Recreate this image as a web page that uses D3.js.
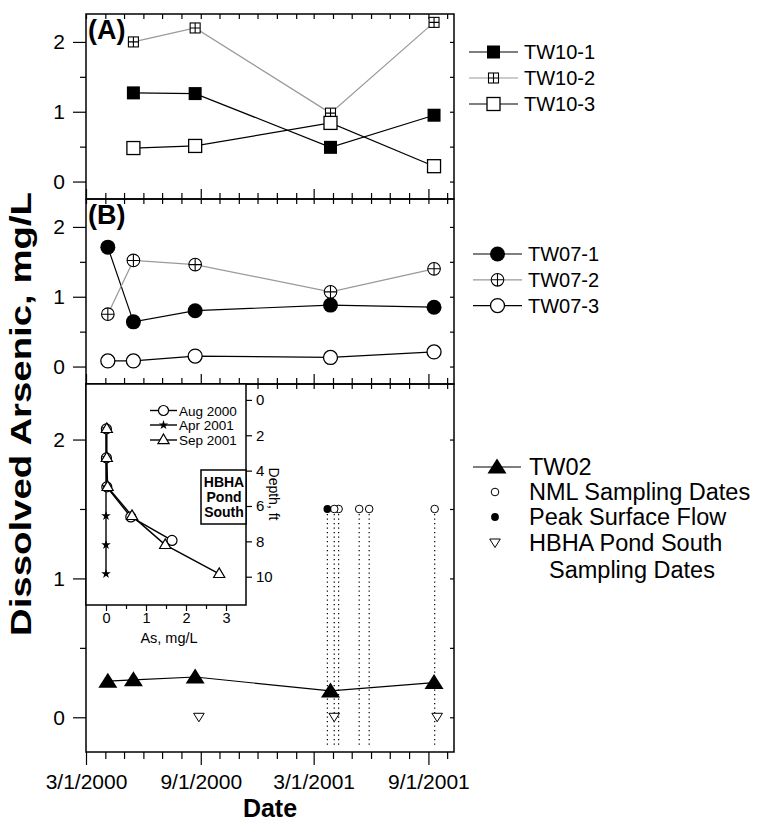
<!DOCTYPE html>
<html>
<head>
<meta charset="utf-8">
<style>
body { margin: 0; background: #fff; }
svg { display: block; font-family: "Liberation Sans", Arial, sans-serif; }
.axis text { font-family: "Liberation Sans", Arial, sans-serif; fill: #000; }
.axis line { stroke: #000; stroke-width: 1.2; }
.axis path.domain { display: none; }
</style>
</head>
<body>
<svg width="761" height="825" font-family="Liberation Sans, Arial, sans-serif"></svg>
<script src="https://cdn.jsdelivr.net/npm/d3@7"></script>
<script>

var parse = d3.timeParse("%Y-%m-%d");

// well sampling dates
var wellDates = ["2000-04-05", "2000-05-16", "2000-08-23", "2001-03-28", "2001-09-10"];

// dissolved arsenic, mg/L (null = not sampled)
var tw10_1 = [null, 1.27, 1.26, 0.49, 0.95];
var tw10_2 = [null, 2.00, 2.20, 0.98, 2.28];
var tw10_3 = [null, 0.48, 0.51, 0.84, 0.22];
var tw07_1 = [1.71, 0.64, 0.80, 0.88, 0.85];
var tw07_2 = [0.75, 1.52, 1.46, 1.07, 1.40];
var tw07_3 = [0.08, 0.08, 0.15, 0.13, 0.21];
var tw02   = [0.26, 0.27, 0.29, 0.19, 0.25];

// event dates shown in panel C
var peakFlowDates = ["2001-03-23"];
var nmlDates = ["2001-04-03", "2001-04-10", "2001-05-13", "2001-05-29", "2001-09-11"];
var hbhaDates = ["2000-08-29", "2001-04-03", "2001-09-15"];
var eventLevel = 1.5;
var hbhaLevel = 0;

// inset: depth profiles at HBHA Pond South
var aug2000Depth = [1.64, 3.28, 4.92, 6.62, 7.95];
var aug2000As    = [0.01, 0.01, 0.02, 0.62, 1.65];
var apr2001Depth = [1.64, 3.28, 4.92, 6.56, 8.20, 9.84];
var apr2001As    = [0.00, 0.00, 0.00, 0.00, 0.00, 0.00];
var sep2001Depth = [1.64, 3.28, 4.92, 6.56, 8.20, 9.84];
var sep2001As    = [0.02, 0.02, 0.04, 0.65, 1.48, 2.83];

// tick labels
var yTicks = [0, 1, 2];
var xTicks = ["2000-03-01", "2000-09-01", "2001-03-01", "2001-09-01"];
var insetAsTicks = [0, 1, 2, 3];
var insetDepthTicks = [0, 2, 4, 6, 8, 10];

var svg = d3.select("svg");
svg.append("rect").attr("width", 761).attr("height", 825).attr("fill", "#fff");

var L = 86, R = 454;
var x = d3.scaleTime()
    .domain([parse("2000-03-01"), parse("2001-10-12")])
    .range([L, R]);

var months = d3.timeMonth.range(parse("2000-03-01"), parse("2001-10-13"));
var majorDates = xTicks.map(parse);
var minorDates = months.filter(function(m) {
  return !majorDates.some(function(d) { return +d === +m; });
});

var panels = [
  { top: 14,  h: 185, label: "(A)" },
  { top: 199, h: 185, label: "(B)" },
  { top: 384, h: 368, label: "(C)" }
];
panels.forEach(function(p) {
  p.y = d3.scaleLinear().domain([-0.25, 2.4]).range([p.top + p.h, p.top]);
});

function mark(g, type, cx, cy) {
  var m = g.append("g").attr("transform", "translate(" + cx + "," + cy + ")");
  switch (type) {
    case "sqFill":
      m.append("rect").attr("x", -6.5).attr("y", -6.5).attr("width", 13).attr("height", 13).attr("fill", "#000");
      break;
    case "sqOpen":
      m.append("rect").attr("x", -6.5).attr("y", -6.5).attr("width", 13).attr("height", 13)
        .attr("fill", "#fff").attr("stroke", "#000").attr("stroke-width", 1.3);
      break;
    case "sqCross":
      m.append("rect").attr("x", -5).attr("y", -5).attr("width", 10).attr("height", 10)
        .attr("fill", "#fff").attr("stroke", "#000").attr("stroke-width", 1.1);
      m.append("path").attr("d", "M-5,0H5M0,-5V5").attr("stroke", "#000").attr("stroke-width", 1.1);
      break;
    case "cFill":
      m.append("circle").attr("r", 7.5).attr("fill", "#000");
      break;
    case "cOpen":
      m.append("circle").attr("r", 7).attr("fill", "#fff").attr("stroke", "#000").attr("stroke-width", 1.3);
      break;
    case "cCross":
      m.append("circle").attr("r", 6.3).attr("fill", "#fff").attr("stroke", "#000").attr("stroke-width", 1.1);
      m.append("path").attr("d", "M-6.3,0H6.3M0,-6.3V6.3").attr("stroke", "#000").attr("stroke-width", 1.1);
      break;
    case "triFill":
      m.append("path").attr("d", "M0,-8.5L9.5,6.5L-9.5,6.5Z").attr("fill", "#000");
      break;
    case "triDown":
      m.append("path").attr("d", "M-5.3,-4L5.3,-4L0,4.5Z").attr("fill", "#fff")
        .attr("stroke", "#000").attr("stroke-width", 1);
      break;
    case "dot":
      m.append("circle").attr("r", 3.8).attr("fill", "#fff").attr("stroke", "#000").attr("stroke-width", 1);
      break;
    case "dotFill":
      m.append("circle").attr("r", 3.9).attr("fill", "#000");
      break;
    case "iCircle":
      m.append("circle").attr("r", 5).attr("fill", "#fff").attr("stroke", "#000").attr("stroke-width", 1.2);
      break;
    case "iStar":
      m.append("path").attr("d", d3.symbol(d3.symbolStar, 28)()).attr("fill", "#000");
      break;
    case "iTri":
      m.append("path").attr("d", "M0,-6L5.6,3.6L-5.6,3.6Z").attr("fill", "#fff")
        .attr("stroke", "#000").attr("stroke-width", 1.2);
      break;
  }
}

// frames and axes
panels.forEach(function(p, i) {
  var bottom = p.top + p.h;
  var g = svg.append("g");

  g.append("g").attr("class", "axis").attr("transform", "translate(" + L + ",0)")
    .call(d3.axisLeft(p.y).tickValues(yTicks).tickSize(13).tickPadding(8).tickFormat(d3.format("d")))
    .selectAll("text").style("font-size", "21px");
  g.append("g").attr("class", "axis").attr("transform", "translate(" + L + ",0)")
    .call(d3.axisLeft(p.y).tickValues([0.5, 1.5]).tickSize(6).tickFormat(""));
  g.append("g").attr("class", "axis").attr("transform", "translate(" + R + ",0)")
    .call(d3.axisLeft(p.y).tickValues([0, 0.5, 1, 1.5, 2]).tickSize(4).tickFormat(""));

  g.append("g").attr("class", "axis").attr("transform", "translate(0," + p.top + ")")
    .call(d3.axisBottom(x).tickValues(months).tickSize(5).tickFormat(""));

  if (i < 2) {
    g.append("g").attr("class", "axis").attr("transform", "translate(0," + bottom + ")")
      .call(d3.axisTop(x).tickValues(majorDates).tickSize(10).tickFormat(""));
    g.append("g").attr("class", "axis").attr("transform", "translate(0," + bottom + ")")
      .call(d3.axisTop(x).tickValues(minorDates).tickSize(6).tickFormat(""));
  } else {
    g.append("g").attr("class", "axis").attr("transform", "translate(0," + bottom + ")")
      .call(d3.axisBottom(x).tickValues(majorDates).tickSize(13).tickPadding(9)
        .tickFormat(d3.timeFormat("%-m/%-d/%Y")))
      .selectAll("text").style("font-size", "21px");
    g.append("g").attr("class", "axis").attr("transform", "translate(0," + bottom + ")")
      .call(d3.axisBottom(x).tickValues(minorDates).tickSize(7).tickFormat(""));
  }

  g.append("rect").attr("x", L).attr("y", p.top).attr("width", R - L).attr("height", p.h)
    .attr("fill", "none").attr("stroke", "#000").attr("stroke-width", 1.5);
});

function drawSeries(panel, list) {
  var g = svg.append("g");
  list.forEach(function(s) {
    var pts = wellDates.map(function(d, i) { return { date: parse(d), v: s.values[i] }; })
      .filter(function(d) { return d.v != null; });
    g.append("path").datum(pts)
      .attr("fill", "none").attr("stroke", s.stroke).attr("stroke-width", 1.2)
      .attr("d", d3.line().x(function(d) { return x(d.date); }).y(function(d) { return panel.y(d.v); }));
    s.pts = pts;
  });
  list.forEach(function(s) {
    s.pts.forEach(function(d) { mark(g, s.mark, x(d.date), panel.y(d.v)); });
  });
}

var seriesA = [
  { name: "TW10-1", values: tw10_1, stroke: "#000", mark: "sqFill" },
  { name: "TW10-2", values: tw10_2, stroke: "#999", mark: "sqCross" },
  { name: "TW10-3", values: tw10_3, stroke: "#000", mark: "sqOpen" }
];
var seriesB = [
  { name: "TW07-1", values: tw07_1, stroke: "#000", mark: "cFill" },
  { name: "TW07-2", values: tw07_2, stroke: "#999", mark: "cCross" },
  { name: "TW07-3", values: tw07_3, stroke: "#000", mark: "cOpen" }
];
var seriesC = [
  { name: "TW02", values: tw02, stroke: "#000", mark: "triFill" }
];

drawSeries(panels[0], seriesA);
drawSeries(panels[1], seriesB);

// panel C: event dates with dotted drop lines
var pc = panels[2];
var gc = svg.append("g");
var allEvents = peakFlowDates.map(function(d) { return { date: parse(d), type: "dotFill" }; })
  .concat(nmlDates.map(function(d) { return { date: parse(d), type: "dot" }; }));
gc.selectAll("line.drop").data(allEvents).enter().append("line")
  .attr("class", "drop")
  .attr("x1", function(d) { return x(d.date); }).attr("x2", function(d) { return x(d.date); })
  .attr("y1", pc.y(eventLevel) + 5).attr("y2", pc.top + pc.h - 4)
  .attr("stroke", "#000").attr("stroke-width", 1.2).attr("stroke-dasharray", "1.2,3.3");
drawSeries(pc, seriesC);
allEvents.slice().reverse().forEach(function(d) { mark(gc, d.type, x(d.date), pc.y(eventLevel)); });
hbhaDates.forEach(function(d) { mark(gc, "triDown", x(parse(d)), pc.y(hbhaLevel)); });

// panel labels
panels.forEach(function(p) {
  svg.append("text").attr("x", 88).attr("y", p.top + 25)
    .attr("font-size", 27).attr("font-weight", "bold").text(p.label);
});

// inset
var ix = d3.scaleLinear().domain([-0.5, 3.5]).range([86, 246]);
var iy = d3.scaleLinear().domain([-0.9, 11.6]).range([384, 605]);
var gi = svg.append("g");
gi.append("rect").attr("x", 86).attr("y", 384).attr("width", 160).attr("height", 221)
  .attr("fill", "#fff").attr("stroke", "#000").attr("stroke-width", 1.5);
gi.append("g").attr("class", "axis").attr("transform", "translate(0,605)")
  .call(d3.axisBottom(ix).tickValues(insetAsTicks).tickSize(6).tickPadding(2).tickFormat(d3.format("d")))
  .selectAll("text").style("font-size", "14.5px");
gi.append("g").attr("class", "axis").attr("transform", "translate(0,605)")
  .call(d3.axisBottom(ix).tickValues([0.5, 1.5, 2.5]).tickSize(4).tickFormat(""));
gi.append("g").attr("class", "axis").attr("transform", "translate(246,0)")
  .call(d3.axisRight(iy).tickValues(insetDepthTicks).tickSize(6).tickPadding(4).tickFormat(d3.format("d")))
  .selectAll("text").style("font-size", "15px");
gi.append("text").attr("x", 169).attr("y", 643).attr("text-anchor", "middle")
  .attr("font-size", 14.5).text("As, mg/L");
gi.append("text").attr("transform", "translate(269,494) rotate(90)").attr("text-anchor", "middle")
  .attr("font-size", 14).text("Depth, ft");

var profiles = [
  { name: "Aug 2000", depth: aug2000Depth, as: aug2000As, mark: "iCircle" },
  { name: "Apr 2001", depth: apr2001Depth, as: apr2001As, mark: "iStar" },
  { name: "Sep 2001", depth: sep2001Depth, as: sep2001As, mark: "iTri" }
];
var iline = d3.line().x(function(d) { return ix(d[0]); }).y(function(d) { return iy(d[1]); });
profiles.forEach(function(pr) {
  pr.pts = pr.as.map(function(a, i) { return [a, pr.depth[i]]; });
  gi.append("path").datum(pr.pts).attr("fill", "none").attr("stroke", "#000")
    .attr("stroke-width", 1.4).attr("d", iline);
});
profiles.forEach(function(pr) {
  pr.pts.forEach(function(d) { mark(gi, pr.mark, ix(d[0]), iy(d[1])); });
});

// inset legend
profiles.forEach(function(pr, i) {
  var ly = [410.5, 425, 440][i];
  gi.append("line").attr("x1", 150).attr("x2", 177).attr("y1", ly).attr("y2", ly)
    .attr("stroke", "#000").attr("stroke-width", 1.4);
  mark(gi, pr.mark, 163.5, ly);
  gi.append("text").attr("x", 179).attr("y", ly + 5).attr("font-size", 13.5).text(pr.name);
});

// HBHA Pond South box
gi.append("rect").attr("x", 201).attr("y", 470).attr("width", 45).attr("height", 54)
  .attr("fill", "#fff").attr("stroke", "#000").attr("stroke-width", 1.5);
["HBHA", "Pond", "South"].forEach(function(t, i) {
  gi.append("text").attr("x", 224).attr("y", 486.5 + i * 15).attr("text-anchor", "middle")
    .attr("font-size", 14).attr("font-weight", "bold").text(t);
});

// legends
function legendRow(g, item, ly, x1, x2, tx, fs) {
  if (x1 != null) {
    g.append("line").attr("x1", x1).attr("x2", x2).attr("y1", ly).attr("y2", ly)
      .attr("stroke", item.stroke).attr("stroke-width", 1.2);
  }
  mark(g, item.mark, (x1 != null ? (x1 + x2) / 2 : 495), ly);
  g.append("text").attr("x", tx).attr("y", ly + fs * 0.35).attr("font-size", fs).text(item.name);
}
var lg = svg.append("g");
seriesA.forEach(function(s, i) { legendRow(lg, s, 52 + i * 26, 469, 518, 524, 20); });
seriesB.forEach(function(s, i) { legendRow(lg, s, 254 + i * 25.8, 473, 522, 528, 20); });
legendRow(lg, seriesC[0], 467, 473, 521, 529, 23.5);
legendRow(lg, { name: "NML Sampling Dates", mark: "dot" }, 492, null, null, 529, 23.5);
legendRow(lg, { name: "Peak Surface Flow", mark: "dotFill" }, 517, null, null, 529, 23.5);
legendRow(lg, { name: "HBHA Pond South", mark: "triDown" }, 543, null, null, 529, 23.5);
lg.append("text").attr("x", 549).attr("y", 543 + 8.2 + 27).attr("font-size", 23.5).text("Sampling Dates");

// axis titles
svg.append("text").attr("transform", "translate(31,414) rotate(-90)").attr("text-anchor", "middle")
  .attr("font-size", 29).attr("font-weight", "bold")
  .attr("textLength", 444).attr("lengthAdjust", "spacingAndGlyphs")
  .text("Dissolved Arsenic, mg/L");
svg.append("text").attr("x", 270).attr("y", 817).attr("text-anchor", "middle")
  .attr("font-size", 25).attr("font-weight", "bold").text("Date");

</script>
</body>
</html>
